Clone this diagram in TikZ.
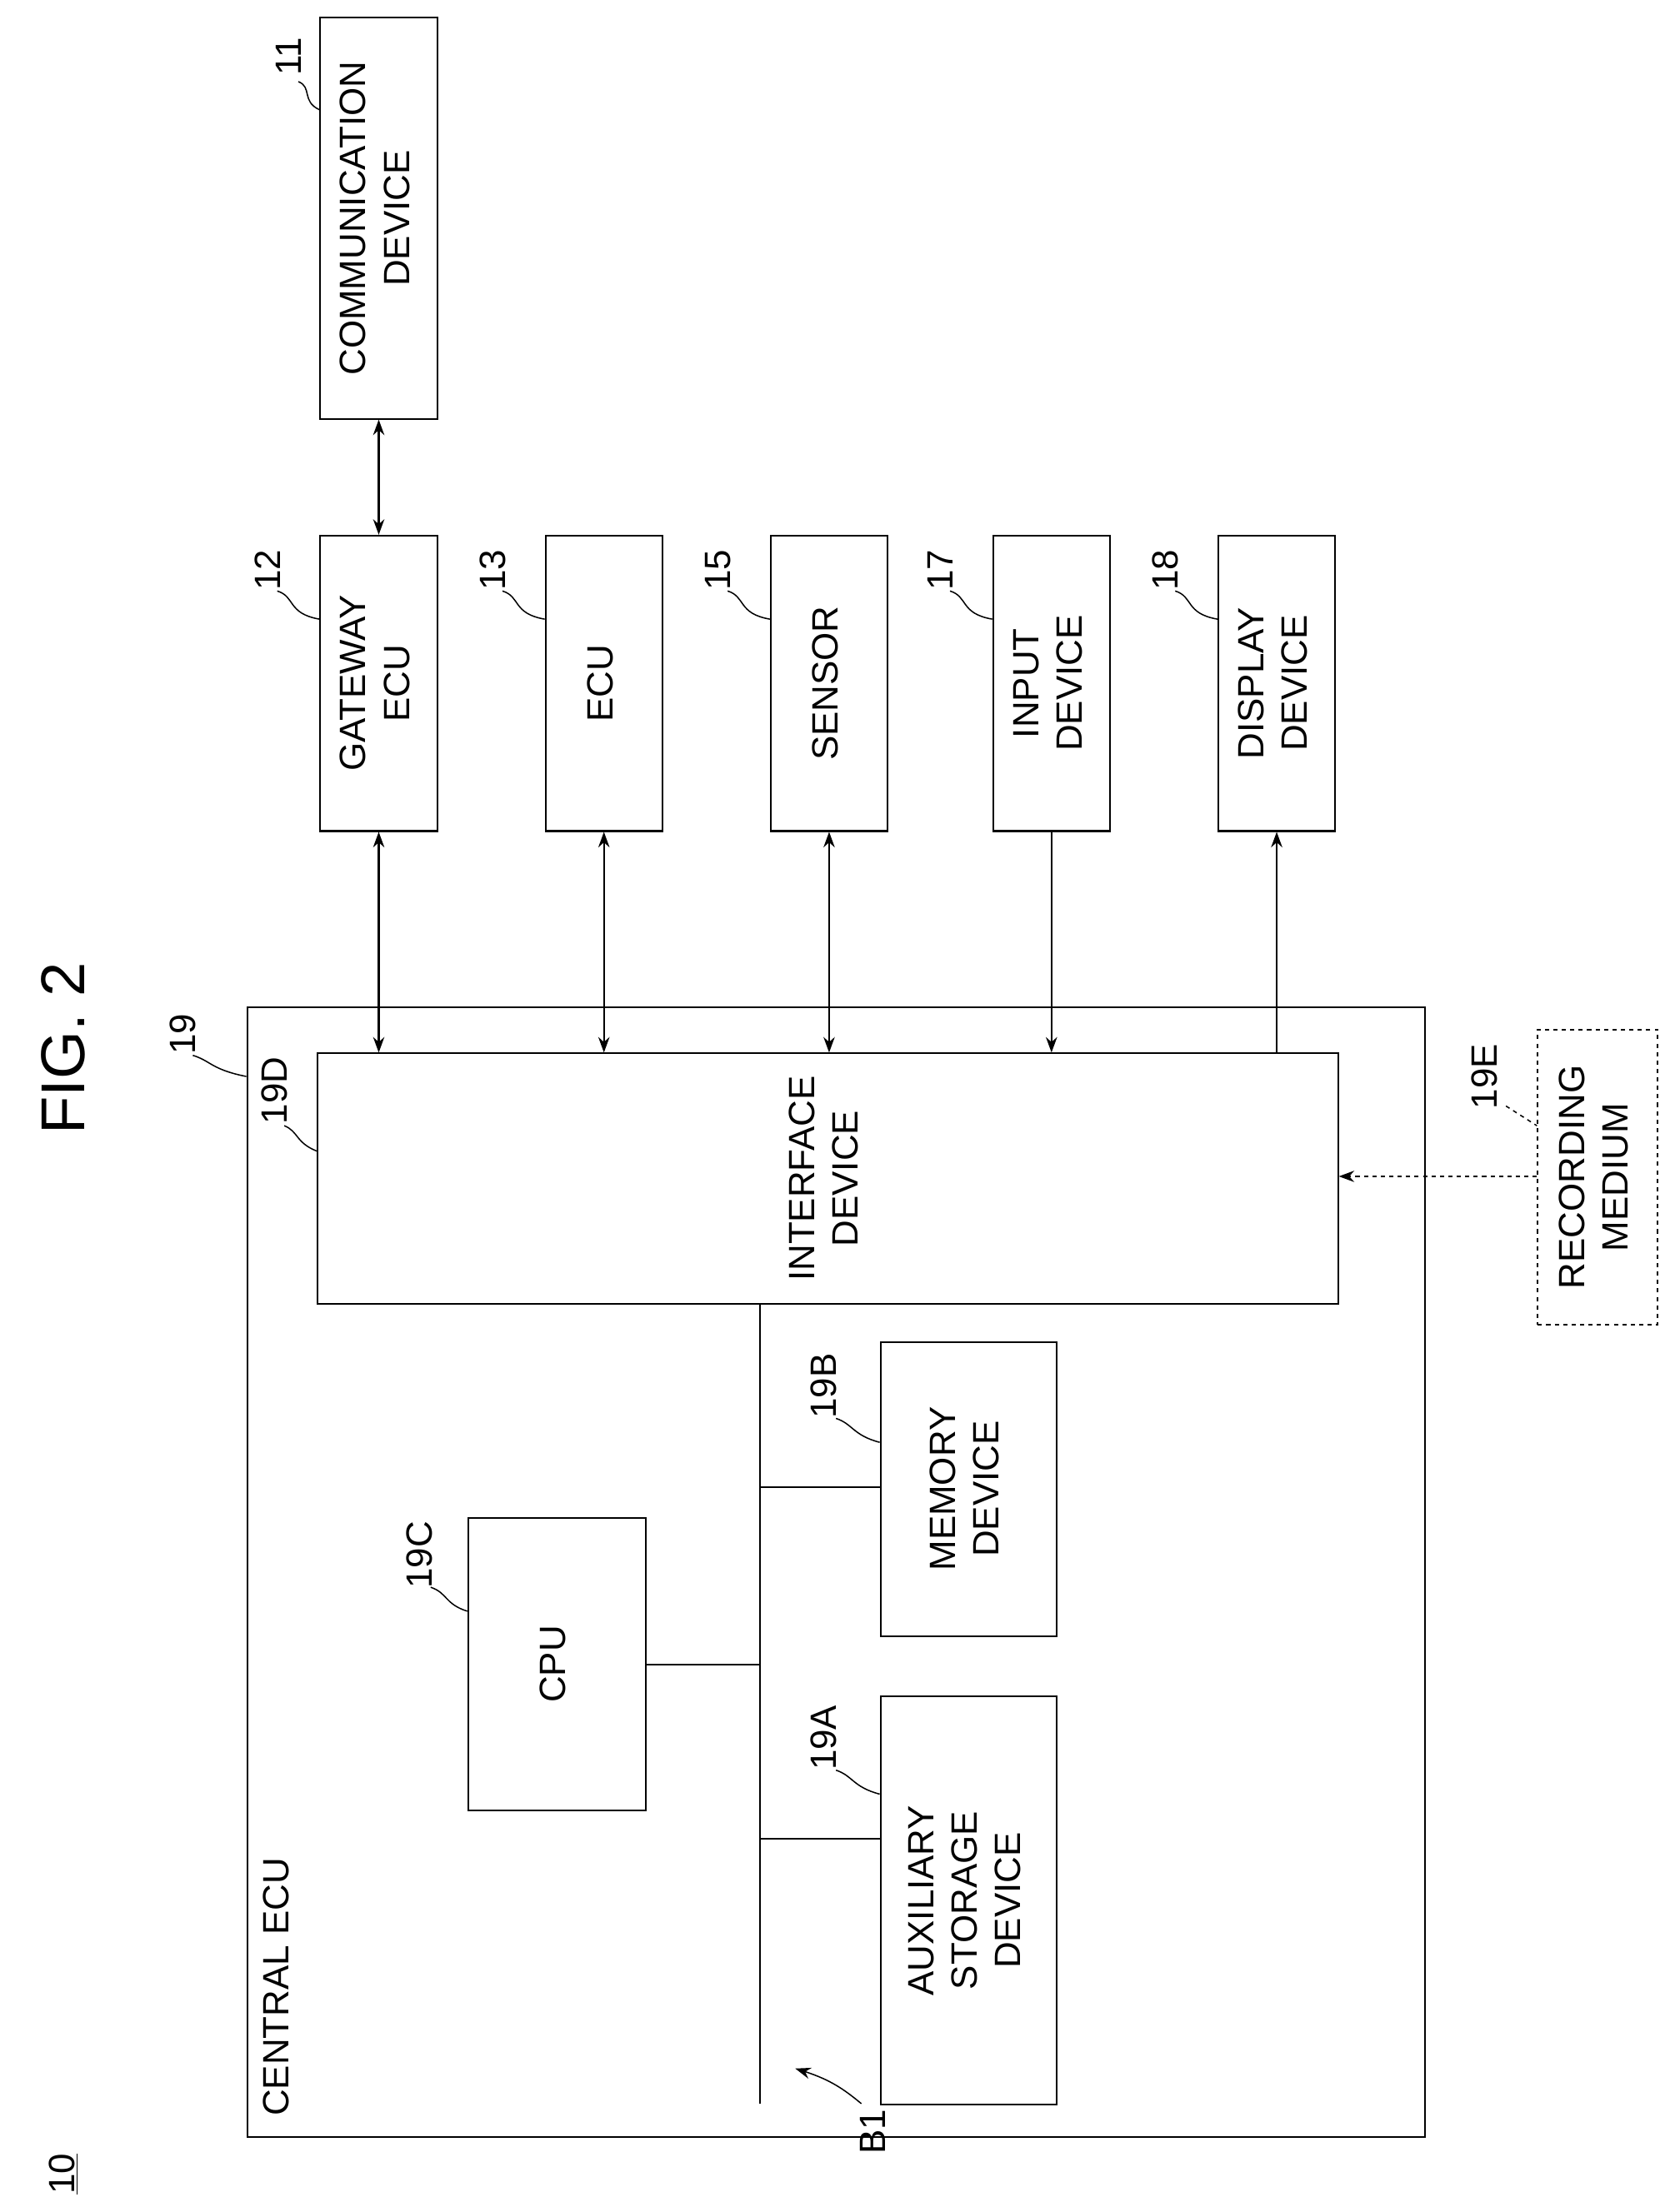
\documentclass[tikz,border=0pt]{standalone}
\usepackage{fontspec}
\setmainfont{Liberation Sans}
\usetikzlibrary{arrows.meta,positioning}
\tikzset{
  blk/.style={draw, line width=1.2pt, inner sep=0pt, font=\fontsize{26}{31}\selectfont},
  lbl/.style={font=\fontsize{26}{31}\selectfont, inner sep=1pt},
  lead/.style={line width=0.9pt},
  link/.style={line width=1.2pt},
}
\newcommand{\rtxt}[1]{\rotatebox{90}{\begin{tabular}{@{}c@{}}#1\end{tabular}}}
\begin{document}
\begin{tikzpicture}[x=1pt,y=-1pt,>={Stealth[length=11pt,width=8pt]}]
\useasboundingbox (0,0) rectangle (1190,1572);
% outer unit
\node[blk, minimum width=837, minimum height=803, anchor=north west] (cecu) at (175,715) {};
\node[lbl, rotate=90, anchor=north west] at (186,1505) {CENTRAL ECU};
% devices on top
\node[blk, minimum width=83, minimum height=285, anchor=north west] (comm) at (227,12) {\rtxt{COMMUNICATION\\DEVICE}};
\node[blk, minimum width=83, minimum height=210, anchor=north west] (gw) at (227,380) {\rtxt{GATEWAY\\ECU}};
\node[blk, minimum width=83, minimum height=210, anchor=north west] (ecu) at (387,380) {\rtxt{ECU}};
\node[blk, minimum width=83, minimum height=210, anchor=north west] (sens) at (547,380) {\rtxt{SENSOR}};
\node[blk, minimum width=83, minimum height=210, anchor=north west] (inp) at (705,380) {\rtxt{INPUT\\DEVICE}};
\node[blk, minimum width=83, minimum height=210, anchor=north west] (disp) at (865,380) {\rtxt{DISPLAY\\DEVICE}};
% inner blocks
\node[blk, minimum width=725, minimum height=178, anchor=north west] (ifd) at (225,748) {\rtxt{INTERFACE\\DEVICE}};
\node[blk, minimum width=125, minimum height=209, anchor=north west] (mem) at (625,953) {\rtxt{MEMORY\\DEVICE}};
\node[blk, minimum width=126, minimum height=208, anchor=north west] (cpu) at (332,1078) {\rtxt{CPU}};
\node[blk, minimum width=125, minimum height=290, anchor=north west] (aux) at (625,1205) {\rtxt{AUXILIARY\\STORAGE\\DEVICE}};
\node[blk, dashed, minimum width=85, minimum height=210, anchor=north west] (rec) at (1092,731) {\rtxt{RECORDING\\MEDIUM}};
% connectors
\draw[link, <->] (comm.south) -- (gw.north);
\draw[link, <->] (gw.south) -- (ifd.north -| gw.south);
\draw[link, <->] (ecu.south) -- (ifd.north -| ecu.south);
\draw[link, <->] (sens.south) -- (ifd.north -| sens.south);
\draw[link, ->] (inp.south) -- (ifd.north -| inp.south);
\draw[link, ->] (ifd.north -| disp.south) -- (disp.south);
\draw[link, dashed, ->] (rec.west |- 0,836) -- (ifd.east |- 0,836);
% bus
\coordinate (bustop) at (540,926);
\coordinate (busend) at (540,1495);
\draw[link] (bustop) -- (busend);
\draw[link] (540,1057) -- (mem.west |- 0,1057);
\draw[link] (cpu.east |- 0,1183) -- (540,1183);
\draw[link] (540,1307) -- (aux.west |- 0,1307);
% reference labels
\node[lbl, rotate=90] (l11) at (205,40) {11};
\draw[lead] (212,58) .. controls (222,62) and (214,72) .. (227,78);
\node[lbl, rotate=90] (l12) at (190,405) {12};
\draw[lead] (197,420) .. controls (210,424) and (204,436) .. (227,440);
\node[lbl, rotate=90] (l13) at (350,405) {13};
\draw[lead] (357,420) .. controls (370,424) and (364,436) .. (387,440);
\node[lbl, rotate=90] (l15) at (510,405) {15};
\draw[lead] (517,420) .. controls (530,424) and (524,436) .. (547,440);
\node[lbl, rotate=90] (l17) at (668,405) {17};
\draw[lead] (675,420) .. controls (688,424) and (682,436) .. (705,440);
\node[lbl, rotate=90] (l18) at (828,405) {18};
\draw[lead] (835,420) .. controls (848,424) and (842,436) .. (865,440);
\node[lbl, rotate=90] (l19) at (130,735) {19};
\draw[lead] (137,750) .. controls (150,754) and (150,760) .. (175,765);
\node[lbl, rotate=90] (l19d) at (195,775) {19D};
\draw[lead] (202,800) .. controls (212,804) and (210,812) .. (225,818);
\node[lbl, rotate=90] (l19e) at (1055,765) {19E};
\draw[lead, dashed] (1070,786) -- (1092,800);
\node[lbl, rotate=90] (l19b) at (585,985) {19B};
\draw[lead] (594,1008) .. controls (606,1012) and (606,1020) .. (625,1025);
\node[lbl, rotate=90] (l19c) at (298,1105) {19C};
\draw[lead] (306,1128) .. controls (318,1132) and (316,1140) .. (332,1145);
\node[lbl, rotate=90] (l19a) at (585,1235) {19A};
\draw[lead] (594,1258) .. controls (606,1262) and (606,1270) .. (625,1275);
\node[lbl, rotate=90] (lb1) at (620,1515) {B1};
\draw[lead, ->] (612,1495) .. controls (600,1485) and (590,1478) .. (565,1470);
% titles
\node[rotate=90, font=\fontsize{44}{50}\selectfont] (fig) at (45,745) {FIG. 2};
\node[lbl, rotate=90] (l10) at (45,1545) {\underline{10}};
\end{tikzpicture}
\end{document}
